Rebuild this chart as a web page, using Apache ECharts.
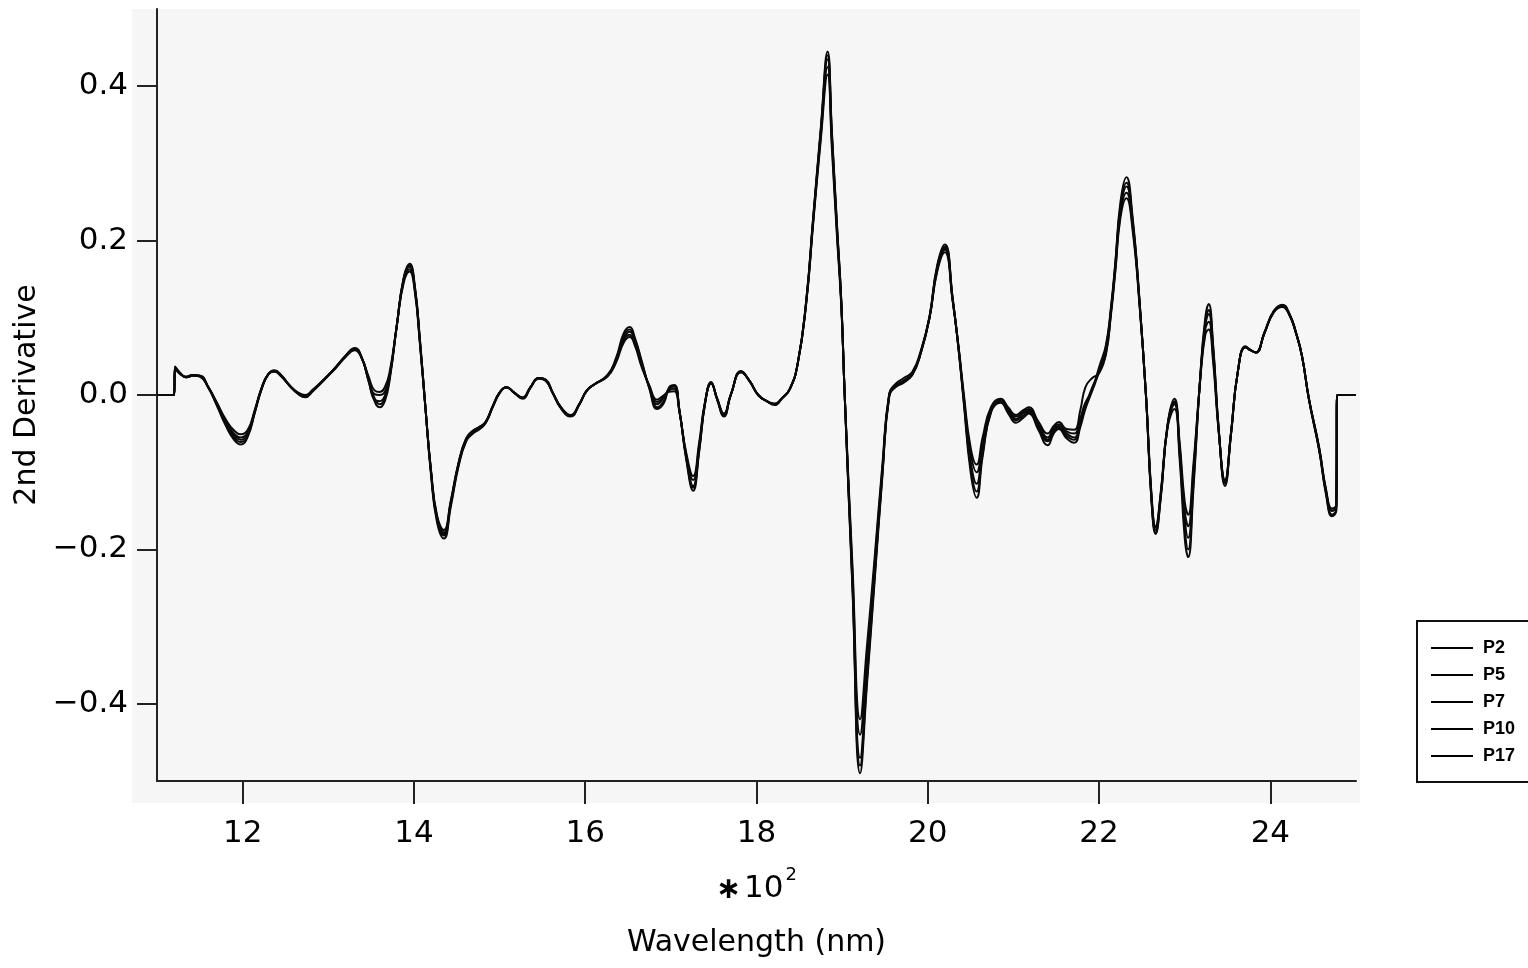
<!DOCTYPE html>
<html>
<head>
<meta charset="utf-8">
<script src="https://cdn.jsdelivr.net/npm/echarts@6/dist/echarts.min.js"></script>
<style>
html,body{margin:0;padding:0;background:#fff;}
#chart{width:1528px;height:968px;}
</style>
</head>
<body>
<div id="chart"></div>
<script>
// Wavelength in units of 10^2 nm
const wavelength = [
  11.00, 11.20, 11.21, 11.27, 11.34, 11.42, 11.50, 11.60, 11.70, 11.80,
  11.90, 11.98, 12.06, 12.14, 12.22, 12.30, 12.37, 12.45, 12.55, 12.65,
  12.73, 12.82, 12.95, 13.08, 13.20, 13.31, 13.39, 13.47, 13.54, 13.60,
  13.66, 13.72, 13.80, 13.88, 13.95, 14.01, 14.07, 14.13, 14.20, 14.27,
  14.35, 14.43, 14.52, 14.61, 14.69, 14.77, 14.84, 14.92, 15.00, 15.08,
  15.17, 15.27, 15.36, 15.46, 15.54, 15.62, 15.72, 15.83, 15.93, 16.02,
  16.11, 16.26, 16.36, 16.45, 16.52, 16.58, 16.66, 16.75, 16.84, 16.92,
  16.98, 17.04, 17.10, 17.18, 17.26, 17.33, 17.40, 17.47, 17.54, 17.62,
  17.70, 17.82, 17.92, 18.02, 18.12, 18.21, 18.30, 18.39, 18.48, 18.58,
  18.66, 18.75, 18.83, 18.88, 18.94, 18.99, 19.03, 19.12, 19.21, 19.29,
  19.38, 19.47, 19.55, 19.62, 19.72, 19.82, 19.92, 20.02, 20.11, 20.20,
  20.29, 20.36, 20.42, 20.50, 20.57, 20.64, 20.74, 20.85, 20.94, 21.03,
  21.11, 21.18, 21.29, 21.40, 21.47, 21.53, 21.62, 21.71, 21.78, 21.84,
  21.92, 22.00, 22.08, 22.14, 22.19, 22.25, 22.32, 22.39, 22.47, 22.55,
  22.61, 22.66, 22.72, 22.80, 22.88, 22.94, 23.00, 23.04, 23.10, 23.18,
  23.24, 23.28, 23.33, 23.40, 23.47, 23.54, 23.62, 23.71, 23.77, 23.83,
  23.93, 24.04, 24.14, 24.22, 24.30, 24.37, 24.45, 24.57, 24.65, 24.72,
  24.77, 24.78, 25.00
];

const p2 = [
  0, 0, 0.036, 0.028, 0.023, 0.026, 0.025, 0.010, -0.012, -0.035,
  -0.052, -0.058, -0.050, -0.022, 0.008, 0.027, 0.031, 0.025, 0.012, 0.002,
  -0.002, 0.006, 0.020, 0.035, 0.050, 0.060, 0.048, 0.020, -0.004, -0.012,
  -0.004, 0.025, 0.090, 0.150, 0.168, 0.140, 0.070, -0.010, -0.100, -0.160,
  -0.180, -0.140, -0.090, -0.058, -0.048, -0.042, -0.035, -0.015, 0.003, 0.010,
  0.003, -0.004, 0.010, 0.022, 0.019, 0.003, -0.017, -0.027, -0.012, 0.006,
  0.014, 0.025, 0.045, 0.074, 0.082, 0.070, 0.040, 0.010, -0.012, -0.003,
  0.008, 0.011, -0.020, -0.080, -0.118, -0.070, -0.010, 0.016, -0.005, -0.026,
  0.000, 0.030, 0.018, 0.000, -0.008, -0.012, -0.004, 0.008, 0.040, 0.120,
  0.225, 0.340, 0.435, 0.335, 0.215, 0.120, 0.000, -0.240, -0.470, -0.360,
  -0.230, -0.100, 0.000, 0.010, 0.018, 0.027, 0.055, 0.100, 0.165, 0.190,
  0.124, 0.060, -0.005, -0.085, -0.115, -0.070, -0.020, -0.008, -0.020, -0.031,
  -0.024, -0.020, -0.040, -0.058, -0.046, -0.040, -0.050, -0.055, -0.035, -0.014,
  0.010, 0.030, 0.060, 0.110, 0.167, 0.240, 0.270, 0.225, 0.124, -0.005,
  -0.130, -0.175, -0.130, -0.040, -0.008, -0.070, -0.160, -0.185, -0.110, 0.020,
  0.090, 0.105, 0.060, -0.050, -0.113, -0.050, 0.030, 0.062, 0.058, 0.055,
  0.080, 0.108, 0.115, 0.105, 0.080, 0.050, -0.005, -0.070, -0.125, -0.150,
  -0.145, 0, 0
];

const p5 = [
  0, 0, 0.034, 0.027, 0.024, 0.026, 0.024, 0.010, -0.010, -0.031,
  -0.046, -0.051, -0.045, -0.020, 0.009, 0.027, 0.030, 0.024, 0.012, 0.003,
  0.000, 0.007, 0.020, 0.034, 0.049, 0.058, 0.048, 0.024, 0.006, 0.004,
  0.010, 0.032, 0.090, 0.145, 0.160, 0.134, 0.066, -0.012, -0.098, -0.156,
  -0.175, -0.137, -0.088, -0.056, -0.046, -0.041, -0.034, -0.014, 0.003, 0.010,
  0.003, -0.003, 0.010, 0.021, 0.018, 0.003, -0.016, -0.026, -0.012, 0.006,
  0.014, 0.024, 0.042, 0.068, 0.075, 0.064, 0.036, 0.012, -0.006, 0.000,
  0.004, 0.005, -0.022, -0.075, -0.105, -0.062, -0.008, 0.015, -0.004, -0.024,
  0.001, 0.029, 0.018, 0.000, -0.008, -0.011, -0.004, 0.008, 0.040, 0.118,
  0.220, 0.330, 0.415, 0.320, 0.205, 0.115, 0.000, -0.220, -0.420, -0.325,
  -0.210, -0.090, 0.002, 0.014, 0.022, 0.030, 0.058, 0.100, 0.160, 0.185,
  0.122, 0.062, 0.002, -0.068, -0.090, -0.055, -0.015, -0.005, -0.016, -0.026,
  -0.020, -0.016, -0.034, -0.050, -0.040, -0.035, -0.044, -0.045, -0.020, 0.010,
  0.022, 0.028, 0.055, 0.105, 0.160, 0.230, 0.255, 0.215, 0.120, -0.003,
  -0.125, -0.170, -0.126, -0.038, -0.005, -0.060, -0.138, -0.155, -0.092, 0.018,
  0.078, 0.085, 0.045, -0.052, -0.110, -0.049, 0.030, 0.062, 0.058, 0.055,
  0.080, 0.107, 0.114, 0.104, 0.080, 0.050, -0.004, -0.068, -0.122, -0.147,
  -0.142, 0, 0
];

const p7 = [
  0, 0, 0.037, 0.029, 0.023, 0.025, 0.024, 0.009, -0.014, -0.039,
  -0.058, -0.064, -0.054, -0.024, 0.007, 0.027, 0.032, 0.026, 0.012, 0.001,
  -0.003, 0.005, 0.019, 0.035, 0.051, 0.061, 0.049, 0.018, -0.008, -0.016,
  -0.008, 0.022, 0.090, 0.152, 0.170, 0.142, 0.072, -0.010, -0.104, -0.165,
  -0.186, -0.145, -0.093, -0.060, -0.050, -0.044, -0.036, -0.016, 0.002, 0.010,
  0.003, -0.005, 0.009, 0.022, 0.020, 0.003, -0.018, -0.028, -0.013, 0.006,
  0.014, 0.026, 0.048, 0.080, 0.088, 0.074, 0.044, 0.008, -0.018, -0.010,
  0.010, 0.013, -0.020, -0.084, -0.124, -0.074, -0.011, 0.017, -0.006, -0.028,
  0.000, 0.031, 0.018, 0.000, -0.008, -0.013, -0.004, 0.008, 0.040, 0.122,
  0.228, 0.345, 0.445, 0.342, 0.220, 0.122, -0.002, -0.250, -0.490, -0.375,
  -0.240, -0.105, -0.002, 0.010, 0.016, 0.027, 0.056, 0.102, 0.168, 0.195,
  0.126, 0.058, -0.010, -0.100, -0.133, -0.080, -0.022, -0.010, -0.024, -0.036,
  -0.030, -0.024, -0.045, -0.065, -0.050, -0.044, -0.056, -0.062, -0.042, -0.018,
  0.006, 0.036, 0.065, 0.115, 0.172, 0.250, 0.282, 0.232, 0.126, -0.006,
  -0.134, -0.180, -0.134, -0.042, -0.018, -0.082, -0.185, -0.210, -0.125, 0.022,
  0.100, 0.118, 0.068, -0.048, -0.118, -0.052, 0.030, 0.063, 0.058, 0.055,
  0.081, 0.109, 0.117, 0.106, 0.081, 0.050, -0.006, -0.072, -0.129, -0.157,
  -0.150, 0, 0
];

const p10 = [
  0, 0, 0.035, 0.028, 0.023, 0.026, 0.025, 0.010, -0.011, -0.033,
  -0.050, -0.055, -0.048, -0.021, 0.008, 0.027, 0.031, 0.025, 0.012, 0.002,
  -0.001, 0.006, 0.020, 0.035, 0.050, 0.059, 0.048, 0.022, 0.001, 0.000,
  0.004, 0.028, 0.090, 0.148, 0.163, 0.137, 0.068, -0.011, -0.099, -0.158,
  -0.178, -0.139, -0.089, -0.057, -0.047, -0.041, -0.035, -0.015, 0.003, 0.010,
  0.003, -0.004, 0.010, 0.022, 0.019, 0.003, -0.017, -0.027, -0.012, 0.006,
  0.014, 0.025, 0.044, 0.071, 0.078, 0.067, 0.038, 0.011, -0.009, -0.002,
  0.006, 0.008, -0.021, -0.078, -0.110, -0.066, -0.009, 0.015, -0.005, -0.025,
  0.000, 0.030, 0.018, 0.000, -0.008, -0.012, -0.004, 0.008, 0.040, 0.119,
  0.222, 0.335, 0.425, 0.328, 0.210, 0.118, 0.000, -0.230, -0.440, -0.340,
  -0.218, -0.095, 0.001, 0.012, 0.019, 0.028, 0.056, 0.100, 0.162, 0.188,
  0.123, 0.061, -0.002, -0.075, -0.100, -0.062, -0.018, -0.006, -0.018, -0.028,
  -0.022, -0.018, -0.037, -0.055, -0.043, -0.038, -0.047, -0.050, -0.030, -0.010,
  0.006, 0.030, 0.052, 0.108, 0.163, 0.235, 0.262, 0.220, 0.122, -0.004,
  -0.128, -0.172, -0.128, -0.039, -0.010, -0.066, -0.150, -0.170, -0.100, 0.019,
  0.085, 0.095, 0.052, -0.050, -0.112, -0.050, 0.030, 0.062, 0.058, 0.055,
  0.080, 0.108, 0.115, 0.105, 0.080, 0.050, -0.005, -0.069, -0.124, -0.150,
  -0.144, 0, 0
];

const p17 = [
  0, 0, 0.036, 0.028, 0.023, 0.025, 0.025, 0.010, -0.013, -0.037,
  -0.055, -0.061, -0.052, -0.023, 0.008, 0.027, 0.031, 0.025, 0.012, 0.002,
  -0.002, 0.006, 0.020, 0.035, 0.050, 0.060, 0.048, 0.019, -0.006, -0.008,
  -0.001, 0.026, 0.090, 0.150, 0.166, 0.139, 0.070, -0.010, -0.101, -0.162,
  -0.182, -0.142, -0.091, -0.059, -0.049, -0.043, -0.035, -0.015, 0.003, 0.010,
  0.003, -0.004, 0.010, 0.022, 0.019, 0.003, -0.017, -0.027, -0.012, 0.006,
  0.014, 0.025, 0.046, 0.077, 0.085, 0.072, 0.042, 0.009, -0.016, -0.007,
  0.009, 0.012, -0.020, -0.082, -0.120, -0.072, -0.010, 0.016, -0.005, -0.027,
  0.000, 0.030, 0.018, 0.000, -0.008, -0.012, -0.004, 0.008, 0.040, 0.121,
  0.226, 0.342, 0.440, 0.338, 0.218, 0.121, -0.001, -0.245, -0.480, -0.368,
  -0.235, -0.102, -0.001, 0.011, 0.018, 0.026, 0.055, 0.100, 0.166, 0.192,
  0.125, 0.059, -0.007, -0.093, -0.125, -0.076, -0.021, -0.009, -0.022, -0.033,
  -0.027, -0.022, -0.042, -0.060, -0.048, -0.042, -0.053, -0.058, -0.038, -0.016,
  0.008, 0.032, 0.062, 0.112, 0.170, 0.245, 0.275, 0.228, 0.125, -0.005,
  -0.132, -0.178, -0.132, -0.041, -0.012, -0.075, -0.172, -0.200, -0.118, 0.021,
  0.095, 0.110, 0.064, -0.049, -0.115, -0.051, 0.030, 0.062, 0.058, 0.055,
  0.080, 0.108, 0.116, 0.105, 0.080, 0.050, -0.005, -0.071, -0.127, -0.155,
  -0.148, 0, 0
];

const seriesNames = ['P2', 'P5', 'P7', 'P10', 'P17'];
const seriesValues = [p2, p5, p7, p10, p17];
const xTicks = [12, 14, 16, 18, 20, 22, 24];
const yTicks = [-0.4, -0.2, 0.0, 0.2, 0.4];

const chart = echarts.init(document.getElementById('chart'), null, {renderer: 'canvas'});
const axisFont = 'DejaVu Sans';

const option = {
  animation: false,
  backgroundColor: '#ffffff',
  graphic: [{
    type: 'rect', z: -10, silent: true,
    shape: {x: 132, y: 9, width: 1228, height: 794},
    style: {fill: '#f6f6f6'}
  }],
  grid: {left: 157, right: 172, top: 9, bottom: 187, containLabel: false},
  legend: {
    orient: 'vertical',
    left: 1417, top: 621,
    data: seriesNames,
    icon: 'rect',
    itemWidth: 42, itemHeight: 2,
    itemGap: 9,
    padding: [18, 30, 17, 14],
    borderColor: '#111', borderWidth: 2,
    backgroundColor: '#ffffff',
    textStyle: {fontSize: 18, lineHeight: 18, fontFamily: 'Liberation Sans', fontWeight: 'bold', color: '#000', padding: [0, 0, 0, 5]},
    itemStyle: {color: '#000'}
  },
  xAxis: {
    type: 'value', min: 11, max: 25,
    axisLine: {show: true, onZero: false, lineStyle: {color: '#222', width: 2}},
    axisTick: {show: true, length: 23, customValues: xTicks, lineStyle: {color: '#222', width: 2}},
    axisLabel: {customValues: xTicks, fontSize: 31, fontFamily: axisFont, color: '#000', margin: 37,
      formatter: v => String(v)},
    splitLine: {show: false},
    name: '{m|\u2217}{d|10}{s|2}\n{t|Wavelength (nm)}',
    nameLocation: 'middle',
    nameGap: 81,
    nameTextStyle: {
      color: '#000', fontFamily: axisFont,
      rich: {
        m: {fontSize: 30, lineHeight: 54, fontFamily: axisFont, color: '#000', fontWeight: 'bold', padding: [2, 3, 0, 0]},
        d: {fontSize: 31, lineHeight: 54, fontFamily: axisFont, color: '#000'},
        s: {fontSize: 18, lineHeight: 18, fontFamily: axisFont, color: '#000', verticalAlign: 'top', padding: [4, 0, 0, 2]},
        t: {fontSize: 30, lineHeight: 54, fontFamily: axisFont, color: '#000'}
      }
    }
  },
  yAxis: {
    type: 'value', min: -0.5, max: 0.5,
    axisLine: {show: true, onZero: false, lineStyle: {color: '#222', width: 2}},
    axisTick: {show: true, length: 20, customValues: yTicks, lineStyle: {color: '#222', width: 2}},
    axisLabel: {customValues: yTicks, fontSize: 31, fontFamily: axisFont, color: '#000', margin: 29,
      formatter: v => (v < -1e-9 ? '\u2212' : '') + Math.abs(v).toFixed(1)},
    splitLine: {show: false},
    name: '2nd Derivative',
    nameLocation: 'middle',
    nameGap: 113,
    nameTextStyle: {fontSize: 30, fontFamily: axisFont, color: '#000'}
  },
  series: seriesNames.map((name, k) => ({
    name: name,
    type: 'line',
    data: wavelength.map((x, i) => [x, seriesValues[k][i]]),
    showSymbol: false,
    symbol: 'none',
    smooth: 0.5,
    lineStyle: {color: '#0a0a0a', width: 2},
    itemStyle: {color: '#000'},
    emphasis: {disabled: true}
  }))
};

chart.setOption(option);
</script>
</body>
</html>
